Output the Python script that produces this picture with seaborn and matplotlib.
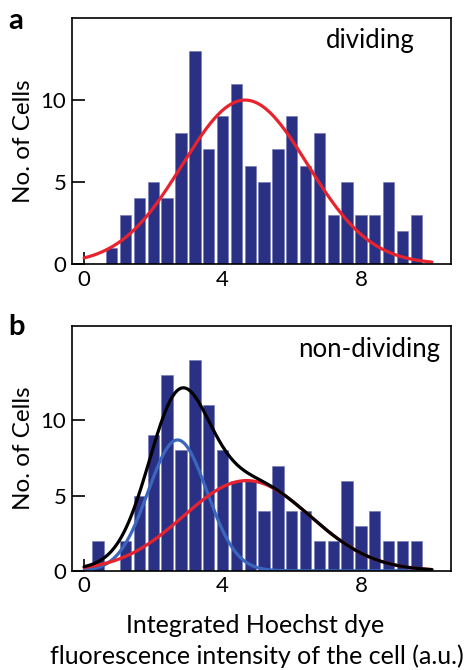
import numpy as np
import pandas as pd
import matplotlib.pyplot as plt
import seaborn as sns

# bin centres (a.u.) and counts
centers_div = np.round(np.arange(0.8, 9.61, 0.4), 1)
counts_div = [1, 3, 4, 5, 4, 8, 13, 7, 9, 11, 6, 5, 7, 9, 6, 8, 3, 5, 3, 3, 5, 2, 3]

centers_non = np.round(np.arange(0.4, 9.61, 0.4), 1)
counts_non = [2, 0, 2, 5, 9, 13, 8, 14, 11, 8, 6, 6, 4, 7, 4, 4, 2, 2, 6, 3, 4, 2, 2, 2]

# gaussian fits: (amplitude, mean, sd)
fit_div = (10.0, 4.65, 1.81)
fit_non_g1 = (8.7, 2.7, 0.85)   # blue, G1 population
fit_non_g2 = (6.0, 4.7, 1.83)   # red, G2 population

bar_col = "#2a3185"
red = "#e8232d"
blue = "#3a66be"

sns.set_style("ticks")
plt.rcParams["font.family"] = ["Lato", "DejaVu Sans"]
plt.rcParams["axes.linewidth"] = 1.2
plt.rcParams["text.color"] = "black"
plt.rcParams["axes.labelcolor"] = "black"
plt.rcParams["xtick.color"] = "black"
plt.rcParams["ytick.color"] = "black"


def gauss(x, p):
    a, m, s = p
    return a * np.exp(-(x - m) ** 2 / (2 * s ** 2))


def hist(ax, centers, counts):
    df = pd.DataFrame({"x": centers, "n": counts})
    sns.histplot(data=df, x="x", weights="n", binwidth=0.4,
                 binrange=(centers[0] - 0.2, centers[-1] + 0.2), shrink=0.82,
                 color=bar_col, edgecolor="#6f75b5", linewidth=0.4,
                 alpha=1, ax=ax)


def style(ax, ymax):
    ax.set_xlim(-0.35, 10.6)
    ax.set_ylim(0, ymax)
    ax.set_xticks([0, 4, 8])
    ax.set_yticks([0, 5, 10])
    ax.tick_params(direction="in", length=9, width=1.2, labelsize=16, pad=4)
    for s in ax.spines.values():
        s.set_visible(True)
        s.set_color("black")
    ax.set_xlabel("")
    ax.set_ylabel("No. of Cells", fontsize=17.5, labelpad=5)


fig = plt.figure(figsize=(4.69, 6.70), dpi=100)
ax1 = fig.add_axes([0.1535, 0.606, 0.808, 0.367])
ax2 = fig.add_axes([0.1535, 0.148, 0.808, 0.366])

# panel a
hist(ax1, centers_div, counts_div)
xs = np.linspace(0, 10.05, 300)
sns.lineplot(x=xs, y=gauss(xs, fit_div), color=red, lw=2.3, ax=ax1)
style(ax1, 15)
ax1.text(8.26, 13.17, "dividing", ha="center", va="baseline", fontsize=18.5)

# panel b
hist(ax2, centers_non, counts_non)
g1 = gauss(xs, fit_non_g1)
g2 = gauss(xs, fit_non_g2)
sns.lineplot(x=xs, y=g1, color=blue, lw=2.3, ax=ax2)
sns.lineplot(x=xs, y=g2, color=red, lw=2.3, ax=ax2)
sns.lineplot(x=xs, y=g1 + g2, color="black", lw=2.3, ax=ax2)
style(ax2, 16.3)
ax2.text(10.3, 14.2, "non-dividing", ha="right", va="baseline", fontsize=18.5)

fig.text(0.018, 0.957, "a", fontsize=21, fontweight="bold", va="baseline")
fig.text(0.018, 0.50, "b", fontsize=21, fontweight="bold", va="baseline")

fig.text(0.543, 0.055, "Integrated Hoechst dye", ha="center", va="baseline", fontsize=18)
fig.text(0.548, 0.009, "fluorescence intensity of the cell (a.u.)", ha="center",
         va="baseline", fontsize=18)

fig.savefig("out.png", dpi=100)
